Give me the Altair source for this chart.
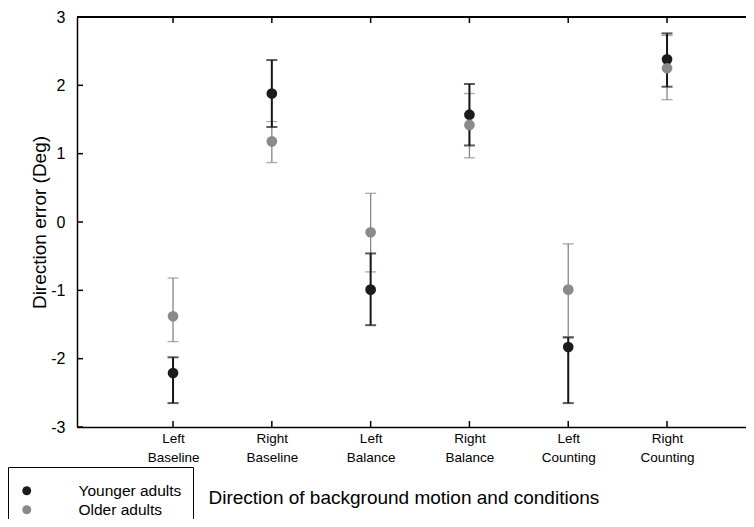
import altair as alt
import pandas as pd

# ---- data ----
conditions = ["Left\nBaseline", "Right\nBaseline", "Left\nBalance",
              "Right\nBalance", "Left\nCounting", "Right\nCounting"]
positions = [1, 2, 3, 4, 5, 6]
groups = ["Younger adults", "Older adults"]

young_mean = [-2.21, 1.88, -0.99, 1.57, -1.83, 2.38]
young_low = [-2.65, 1.39, -1.51, 1.12, -2.65, 1.98]
young_high = [-1.98, 2.37, -0.46, 2.02, -1.69, 2.76]

old_mean = [-1.38, 1.18, -0.15, 1.42, -0.99, 2.25]
old_low = [-1.75, 0.87, -0.73, 0.94, -1.68, 1.79]
old_high = [-0.82, 1.47, 0.42, 1.88, -0.32, 2.73]

y_ticks = [-3, -2, -1, 0, 1, 2, 3]

# ---- tables ----
rows = []
for g, m, lo, hi in [(groups[0], young_mean, young_low, young_high),
                     (groups[1], old_mean, old_low, old_high)]:
    for p, a, b, c in zip(positions, m, lo, hi):
        rows.append({"group": g, "pos": p, "mean": a, "low": b, "high": c})
df = pd.DataFrame(rows)
xt = pd.DataFrame({"pos": positions})
yt = pd.DataFrame({"v": y_ticks})

TOP = 9
W, H = 669, 419 - TOP
STEP = 98.8
xscale = alt.Scale(domain=[0.028, 0.028 + W / STEP], nice=False, zero=False)
yscale = alt.Scale(domain=[-3, 3], nice=False, zero=False)

parts = []
for p, c in zip(positions, conditions):
    arr = "[" + ",".join("'" + s + "'" for s in c.split("\n")) + "]"
    parts.append(f"datum.value == {p} ? {arr}")
label_expr = " : ".join(parts) + " : ''"

FONT = "Liberation Sans"

x_axis = alt.Axis(values=positions, labelExpr=label_expr, ticks=False, grid=False,
                  labelFont=FONT, labelFontSize=13.5,
                  labelLineHeight=19, labelPadding=4, labelOverlap=False,
                  labelColor="black", labelBaseline="top",
                  title="Direction of background motion and conditions",
                  titleFont=FONT, titleFontSize=19, titleFontWeight="normal",
                  titleColor="black", titleAlign="left", titleAnchor="start",
                  titleX=131, titleY=70, titleBaseline="middle",
                  domainColor="black", domainWidth=1.5)
y_axis = alt.Axis(values=y_ticks, ticks=False, grid=False,
                  labelFont=FONT, labelFontSize=16, labelPadding=12,
                  labelColor="black", labelExpr="'' + datum.value",
                  title="Direction error (Deg)", titleFont=FONT,
                  titleFontSize=19, titleFontWeight="normal", titleColor="black",
                  titlePadding=1, domainColor="black", domainWidth=1.5)

X = alt.X("pos:Q", scale=xscale, axis=x_axis)
Y = alt.Y("mean:Q", scale=yscale, axis=y_axis)

base = alt.Chart(df)

layers = []
styles = {groups[0]: ("#161616", 2.0), groups[1]: ("#858585", 1.3)}
for g in [groups[1], groups[0]]:
    col, sw = styles[g]
    sub = base.transform_filter(alt.datum.group == g)
    layers.append(sub.mark_rule(color=col, strokeWidth=sw).encode(
        x=X, y=alt.Y("low:Q", scale=yscale, axis=y_axis), y2="high:Q"))
    layers.append(sub.mark_tick(color=col, thickness=sw, size=11, orient="horizontal").encode(
        x=X, y=alt.Y("low:Q", scale=yscale, axis=y_axis)))
    layers.append(sub.mark_tick(color=col, thickness=sw, size=11, orient="horizontal").encode(
        x=X, y=alt.Y("high:Q", scale=yscale, axis=y_axis)))

points = base.mark_circle(size=115, opacity=1).encode(
    x=X, y=Y,
    color=alt.Color("group:N",
                    scale=alt.Scale(domain=groups, range=["#1c1c1c", "#8a8a8a"]),
                    legend=alt.Legend(title=" ", titleFontSize=5, titlePadding=0,
                                      orient="none", legendX=-69,
                                      legendY=467 - 8 - TOP,
                                      symbolType="circle", symbolSize=80,
                                      labelFont=FONT, labelFontSize=15.5,
                                      labelColor="black", labelOffset=44,
                                      rowPadding=2, padding=11,
                                      strokeColor="black")),
)
layers.append(points)

# inward ticks and top border
tick_col = "black"
layers.append(alt.Chart(xt).mark_rule(color=tick_col, strokeWidth=1.5).encode(
    x=alt.X("pos:Q", scale=xscale, axis=x_axis), y=alt.value(H), y2=alt.value(H - 6)))
layers.append(alt.Chart(xt).mark_rule(color=tick_col, strokeWidth=1.5).encode(
    x=alt.X("pos:Q", scale=xscale, axis=x_axis), y=alt.value(0), y2=alt.value(6)))
layers.append(alt.Chart(yt).mark_rule(color=tick_col, strokeWidth=1.5).encode(
    y=alt.Y("v:Q", scale=yscale, axis=y_axis), x=alt.value(0), x2=alt.value(6)))
layers.append(alt.Chart(xt).mark_rule(color=tick_col, strokeWidth=1.5).encode(
    y=alt.value(0), x=alt.value(0), x2=alt.value(W)))

chart = alt.layer(*layers).properties(
    width=W, height=H,
    autosize=alt.AutoSizeParams(type="none"),
    padding={"left": 69, "top": TOP, "right": 0, "bottom": 511 - TOP - H},
).configure_view(stroke=None).configure(font=FONT)

chart.save("out.html", embed_options={"renderer": "svg", "actions": False})
